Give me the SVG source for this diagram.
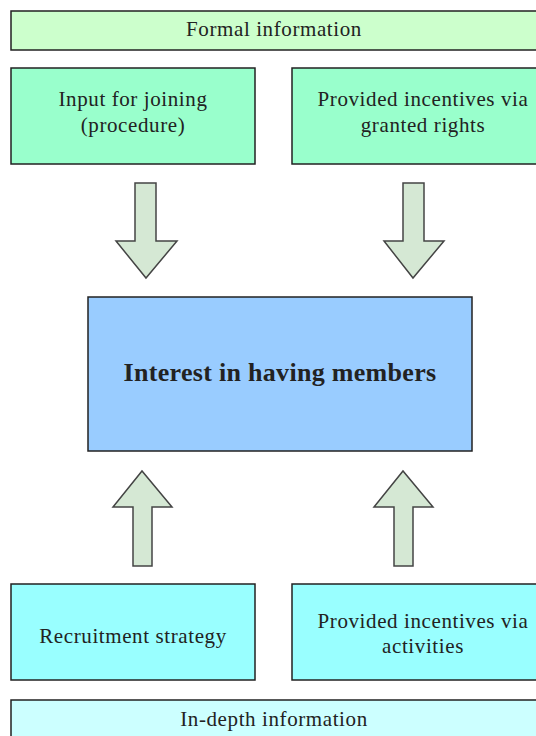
<svg xmlns="http://www.w3.org/2000/svg" width="536" height="736" viewBox="0 0 536 736">
<style>
.box{stroke:#222;stroke-width:1.5}
.t{font-family:"Liberation Serif","Times New Roman",serif;font-size:21px;letter-spacing:0.6px;fill:#222;text-anchor:middle}
.b{font-weight:bold;font-size:26px;letter-spacing:0.3px}
.arr{fill:#d5e8d4;stroke:#444;stroke-width:1.5;stroke-linejoin:miter}
</style>
<rect width="536" height="736" fill="#fff"/>
<g id="formal">
<rect class="box" x="11" y="11" width="535" height="39" fill="#ccffcc"/>
<text class="t" x="274" y="36">Formal information</text>
</g>
<g id="input">
<rect class="box" x="11" y="68" width="244" height="96" fill="#99ffcc"/>
<text class="t" x="133" y="106">Input for joining</text>
<text class="t" x="133" y="132">(procedure)</text>
</g>
<g id="rights">
<rect class="box" x="292" y="68" width="260" height="96" fill="#99ffcc"/>
<text class="t" x="423" y="106">Provided incentives via</text>
<text class="t" x="423" y="132">granted rights</text>
</g>
<g id="interest">
<rect class="box" x="88" y="297" width="384" height="154" fill="#99ccff"/>
<text class="t b" x="280" y="381">Interest in having members</text>
</g>
<g id="recruit">
<rect class="box" x="11" y="584" width="244" height="96" fill="#99ffff"/>
<text class="t" x="133" y="643">Recruitment strategy</text>
</g>
<g id="activities">
<rect class="box" x="292" y="584" width="260" height="96" fill="#99ffff"/>
<text class="t" x="423" y="628">Provided incentives via</text>
<text class="t" x="423" y="653">activities</text>
</g>
<g id="indepth">
<rect class="box" x="11" y="700" width="535" height="50" fill="#ccffff"/>
<text class="t" x="274" y="726">In-depth information</text>
</g>
<g id="connectors">
<polygon class="arr" points="135,183 156,183 156,241 177,241 146,278 116,241 135,241"/>
<polygon class="arr" points="403,183 424,183 424,241 444,241 413,278 384,241 403,241"/>
<polygon class="arr" points="133,566 152,566 152,507 172,507 142,471 113,507 133,507"/>
<polygon class="arr" points="394,566 413,566 413,507 433,507 403,471 374,507 394,507"/>
</g>
</svg>
